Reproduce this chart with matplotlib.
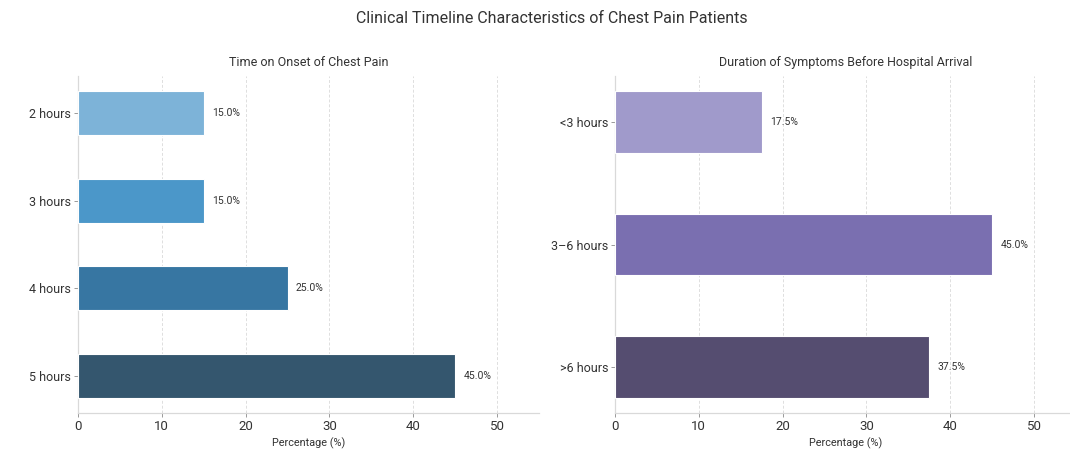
import matplotlib
matplotlib.use('Agg')
import matplotlib.pyplot as plt

# Données
onset_labels = ["2 hours", "3 hours", "4 hours", "5 hours"]
onset_values = [15.0, 15.0, 25.0, 45.0]
onset_colors = ["#7db3d8", "#4b97c9", "#3776a2", "#34566e"]

duration_labels = ["<3 hours", "3\u20136 hours", ">6 hours"]
duration_values = [17.5, 45.0, 37.5]
duration_colors = ["#a09acb", "#7a6fb0", "#554d70"]

xticks = [0, 10, 20, 30, 40, 50]

plt.rcParams['font.family'] = ['Roboto', 'DejaVu Sans']

TXT = '#333333'
GRID = '#dedede'

fig = plt.figure(figsize=(10.70, 4.53), dpi=100)
fig.patch.set_facecolor('white')

ax1 = fig.add_axes([0.0729, 0.0883, 0.4308, 0.7439])
ax2 = fig.add_axes([0.5748, 0.0883, 0.4308, 0.7439])


def panneau(ax, labels, values, colors, titre):
    y = list(range(len(labels)))
    ax.barh(y, values, height=0.5, color=colors, edgecolor='white', linewidth=0.8, zorder=3)
    ax.set_yticks(y)
    ax.set_yticklabels(labels)
    ax.invert_yaxis()
    ax.set_xlim(0, 55)
    ax.set_xticks(xticks)
    for yi, v in zip(y, values):
        ax.text(v + 1, yi, f"{v:.1f}%", va='center', ha='left', fontsize=7.5, color=TXT)
    ax.set_title(titre, fontsize=9, color=TXT, pad=7)
    ax.set_xlabel('Percentage (%)', fontsize=7.8, color=TXT, labelpad=3)
    ax.grid(axis='x', color=GRID, linestyle=(0, (3, 2)), linewidth=0.7, zorder=0)
    ax.set_axisbelow(True)
    for s in ('top', 'right'):
        ax.spines[s].set_visible(False)
    for s in ('left', 'bottom'):
        ax.spines[s].set_color('#d9d9d9')
        ax.spines[s].set_linewidth(0.9)
    ax.tick_params(axis='y', labelsize=9, colors='#999999', labelcolor=TXT, length=3, width=0.7, pad=2)
    ax.tick_params(axis='x', labelsize=9.5, colors='#999999', labelcolor=TXT, length=3, width=0.7, pad=2)


panneau(ax1, onset_labels, onset_values, onset_colors, 'Time on Onset of Chest Pain')
panneau(ax2, duration_labels, duration_values, duration_colors,
        'Duration of Symptoms Before Hospital Arrival')

fig.text(0.516, 0.96, 'Clinical Timeline Characteristics of Chest Pain Patients',
         ha='center', va='center', fontsize=11.5, color=TXT)

fig.savefig('out.png', dpi=100, facecolor='white')
